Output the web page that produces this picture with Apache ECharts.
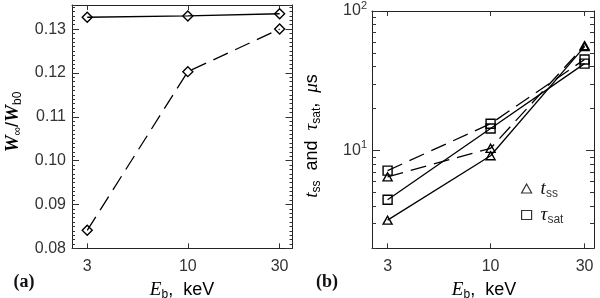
<!DOCTYPE html>
<html><head><meta charset="utf-8">
<script src="https://cdn.jsdelivr.net/npm/echarts@6/dist/echarts.min.js"></script>
<style>html,body{margin:0;padding:0;background:#fff}#c{width:600px;height:298px}</style>
</head><body><div id="c"></div>
<script>
// ---- data ----
const energies = [3, 10, 30];
const wRatioSolid = [0.1327, 0.1330, 0.1335];
const wRatioDashed = [0.0841, 0.1203, 0.1300];
const tssSolid = [3.18, 9.2, 55.6];
const tssDashed = [6.5, 10.4, 56.5];
const tauSolid = [4.45, 14.4, 42.0];
const tauDashed = [7.2, 15.6, 45.0];
const xTicks = [3, 10, 30];
const tMajorTicks = [10, 100];
const tMinorTicks = [2, 3, 4, 5, 6, 7, 8, 9, 20, 30, 40, 50, 60, 70, 80, 90];

const pairs = (xs, ys) => xs.map((x, i) => [x, ys[i]]);
const INK = '#222';
const TICK = '#333';
const SANS = 'Liberation Sans';
const SERIF = 'Liberation Serif';

function xAx(grid, pos, labels, max) {
  return {
    type: 'log', gridIndex: grid, position: pos, min: 2.5, max: max,
    axisLine: { show: true, onZero: false, lineStyle: { color: INK, width: 1 } },
    axisTick: { show: true, inside: true, length: 5, customValues: xTicks, lineStyle: { color: TICK, width: 1 } },
    axisLabel: { show: labels, customValues: xTicks, margin: 10, fontFamily: SANS, fontSize: 16, color: '#333' },
    splitLine: { show: false }, minorTick: { show: false }
  };
}
function wAx(pos, labels, interval, len, line) {
  return {
    type: 'value', gridIndex: 0, position: pos, min: 0.08, max: 0.1355, interval: interval,
    axisLine: { show: line, lineStyle: { color: INK, width: 1 } },
    axisTick: { show: true, inside: true, length: len, lineStyle: { color: TICK, width: 1 } },
    axisLabel: { show: labels, margin: 6, fontFamily: SANS, fontSize: 16, color: '#333', showMaxLabel: false,
      formatter: v => (v > 0.1351 ? '' : v.toFixed(2)) },
    splitLine: { show: false }
  };
}
function tAx(pos, labels, ticks, len, line) {
  return {
    type: 'log', gridIndex: 1, position: pos, min: 2, max: 100, logBase: 10,
    axisLine: { show: line, lineStyle: { color: INK, width: 1 } },
    axisTick: { show: true, inside: true, length: len, customValues: ticks, lineStyle: { color: TICK, width: 1 } },
    axisLabel: { show: labels, customValues: ticks, margin: 5, fontFamily: SANS, color: '#333',
      formatter: v => '{a|10}{s|' + Math.round(Math.log10(v)) + '}',
      rich: { a: { fontSize: 16, lineHeight: 22, fontFamily: SANS, color: '#333' },
              s: { fontSize: 11, lineHeight: 22, verticalAlign: 'top', fontFamily: SANS, color: '#333' } } },
    splitLine: { show: false }
  };
}

const ls = (type) => ({ color: '#000', width: 1.3, type: type === 'dash' ? [16, 8] : 'solid' });
const mk = { color: 'rgba(0,0,0,0)', borderColor: '#000', borderWidth: 1.4 };

function ser(name, xi, yi, data, sym, size, dash) {
  return { type: 'line', name: name, xAxisIndex: xi, yAxisIndex: yi, data: data,
    symbol: sym, symbolSize: size, showSymbol: true, animation: false,
    lineStyle: ls(dash), itemStyle: mk, emphasis: { disabled: true }, z: 3 };
}

const subRich = {
  it: { fontFamily: SERIF, fontStyle: 'italic', fontSize: 19, lineHeight: 22, color: '#111' },
  itb: { fontFamily: SERIF, fontStyle: 'italic', fontWeight: 'bold', fontSize: 19, lineHeight: 22, color: '#111' },
  sub: { fontFamily: SANS, fontSize: 12, lineHeight: 22, verticalAlign: 'bottom', color: '#333' },
  t: { fontFamily: SANS, fontSize: 18, lineHeight: 22, color: '#333' }
};

const option = {
  backgroundColor: '#fff',
  animation: false,
  grid: [
    { left: 72, top: 5, width: 220.5, height: 243.3 },
    { left: 372, top: 5, width: 222, height: 243.3 }
  ],
  xAxis: [
    xAx(0, 'bottom', true, 35), xAx(0, 'top', false, 35),
    xAx(1, 'bottom', true, 33.5), xAx(1, 'top', false, 33.5)
  ],
  yAxis: [
    wAx('left', true, 0.01, 7, true), wAx('left', false, 0.001, 3, false),
    wAx('right', false, 0.01, 7, true), wAx('right', false, 0.001, 3, false),
    tAx('left', true, tMajorTicks, 8, true), tAx('left', false, tMinorTicks, 4, false),
    tAx('right', false, tMajorTicks, 8, true), tAx('right', false, tMinorTicks, 4, false)
  ],
  legend: {
    orient: 'vertical', left: 516, top: 174, itemWidth: 10, itemHeight: 9, itemGap: 6,
    selectedMode: false,
    data: [{ name: 't_ss', icon: 'triangle' }, { name: 'τ_sat', icon: 'rect' }],
    itemStyle: { color: 'rgba(0,0,0,0)', borderColor: '#333', borderWidth: 1.2 },
    formatter: n => n === 't_ss' ? '{it|t}{sub|ss}' : '{it|τ}{sub|sat}',
    textStyle: { rich: subRich, padding: [0, 0, 0, 4] }
  },
  series: [
    ser('W solid', 0, 0, pairs(energies, wRatioSolid), 'diamond', [10, 10], 'solid'),
    ser('W dashed', 0, 0, pairs(energies, wRatioDashed), 'diamond', [10, 10], 'dash'),
    ser('t_ss', 2, 4, pairs(energies, tssSolid), 'triangle', [9, 8], 'solid'),
    ser('t_ss', 2, 4, pairs(energies, tssDashed), 'triangle', [9, 8], 'dash'),
    ser('τ_sat', 2, 4, pairs(energies, tauSolid), 'rect', [9, 9], 'solid'),
    ser('τ_sat', 2, 4, pairs(energies, tauDashed), 'rect', [9, 9], 'dash')
  ],
  graphic: [
    { type: 'text', x: 13, y: 122, rotation: Math.PI / 2,
      style: { text: '{itb|W}{sub|∞}{t|/}{itb|W}{sub|b0}', rich: subRich, align: 'center', verticalAlign: 'middle' } },
    { type: 'text', x: 312, y: 136, rotation: Math.PI / 2,
      style: { text: '{it|t}{sub|ss}{t|  and  }{it|τ}{sub|sat}{t|,  }{it|μ}{t|s}', rich: subRich, align: 'center', verticalAlign: 'middle' } },
    { type: 'text', x: 182, y: 290,
      style: { text: '{it|E}{sub|b}{t|,  keV}', rich: subRich, align: 'center', verticalAlign: 'middle' } },
    { type: 'text', x: 484, y: 290,
      style: { text: '{it|E}{sub|b}{t|,  keV}', rich: subRich, align: 'center', verticalAlign: 'middle' } },
    { type: 'text', x: 24, y: 282,
      style: { text: '(a)', fontFamily: SERIF, fontWeight: 'bold', fontSize: 18, fill: '#111', align: 'center', verticalAlign: 'middle' } },
    { type: 'text', x: 327, y: 282,
      style: { text: '(b)', fontFamily: SERIF, fontWeight: 'bold', fontSize: 18, fill: '#111', align: 'center', verticalAlign: 'middle' } }
  ]
};
const chart = echarts.init(document.getElementById('c'), null, { renderer: 'canvas' });
chart.setOption(option);
</script>
</body></html>
